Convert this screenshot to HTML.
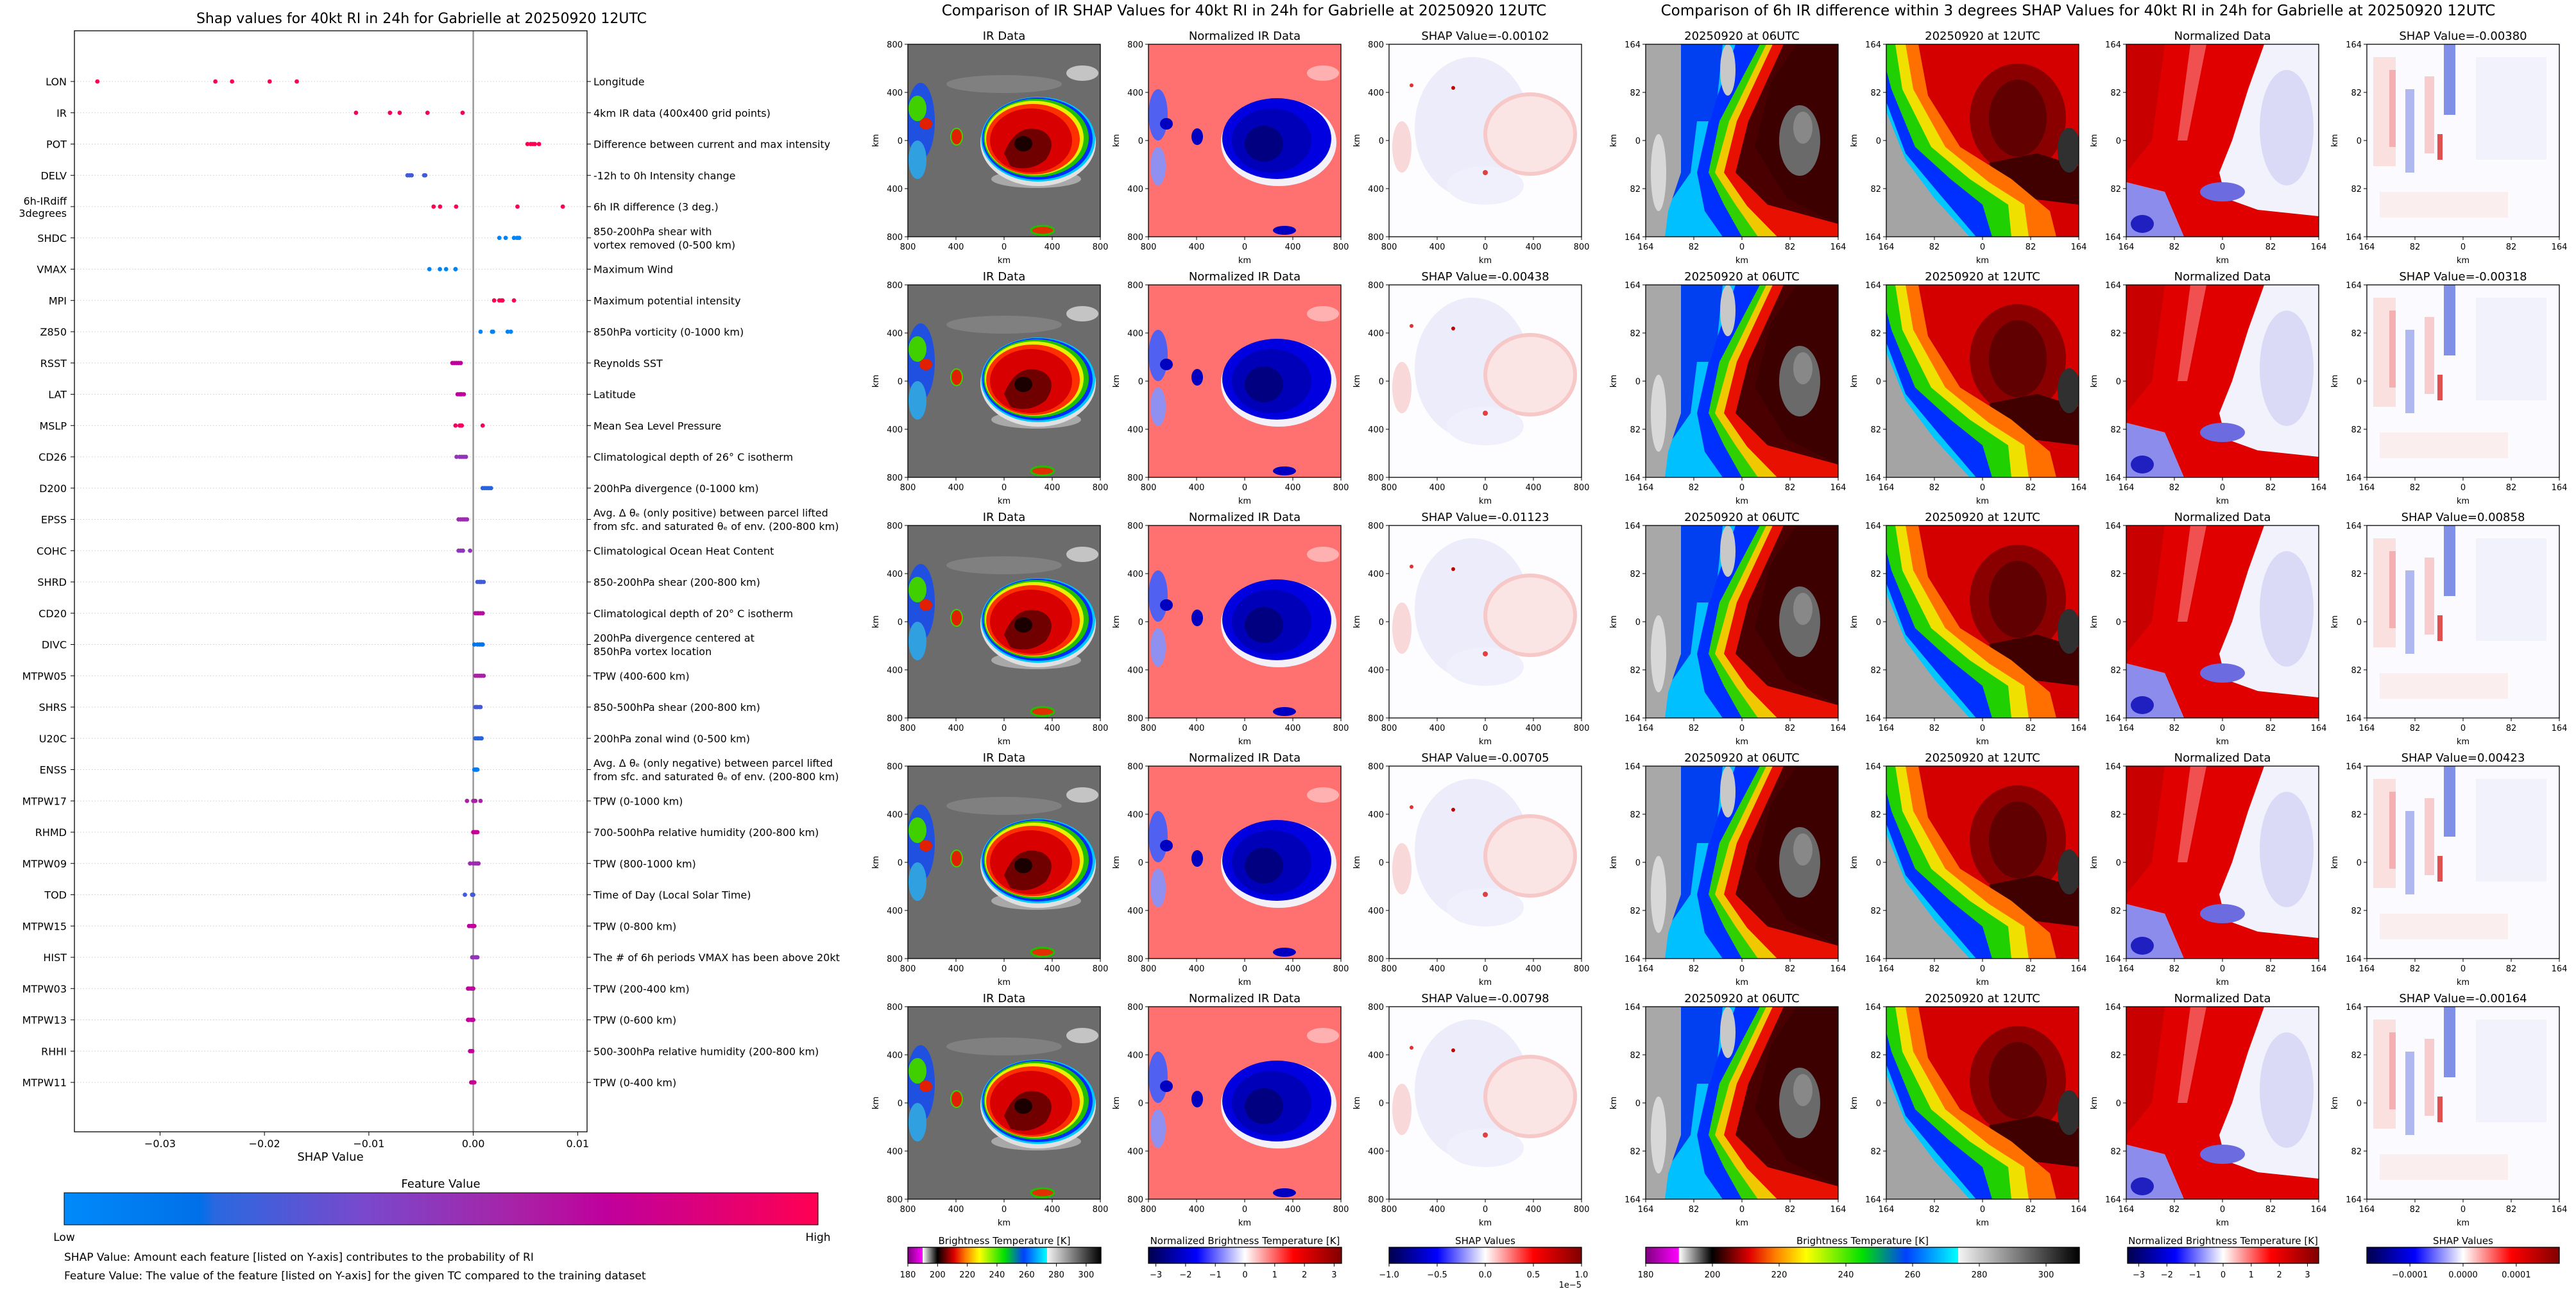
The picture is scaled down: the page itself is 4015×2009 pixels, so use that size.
<!DOCTYPE html>
<html><head><meta charset="utf-8"><title>Gabrielle SHAP</title>
<style>
html,body{margin:0;padding:0;background:#fff;}
svg{display:block;font-family:"DejaVu Sans","Liberation Sans",sans-serif;}
</style></head>
<body>
<svg id="fig" width="4015" height="2009" viewBox="0 0 4015 2009" xmlns="http://www.w3.org/2000/svg">
<defs>
  <linearGradient id="g-feature" x1="0" x2="1" y1="0" y2="0">
    <stop offset="0" stop-color="#008afa"/><stop offset="0.18" stop-color="#0070e8"/>
    <stop offset="0.2" stop-color="#2a68e0"/><stop offset="0.4" stop-color="#7a48cc"/>
    <stop offset="0.6" stop-color="#a822a6"/><stop offset="0.72" stop-color="#c0009c"/>
    <stop offset="1" stop-color="#ff0052"/>
  </linearGradient>
  <linearGradient id="g-bt" x1="0" x2="1">
    <stop offset="0" stop-color="#800080"/><stop offset="0.076" stop-color="#ff00ff"/>
    <stop offset="0.077" stop-color="#ffffff"/><stop offset="0.153" stop-color="#000000"/>
    <stop offset="0.24" stop-color="#e00000"/><stop offset="0.3" stop-color="#ff8000"/>
    <stop offset="0.37" stop-color="#ffff00"/><stop offset="0.5" stop-color="#00e000"/>
    <stop offset="0.6" stop-color="#0040ff"/><stop offset="0.72" stop-color="#00ffff"/>
    <stop offset="0.721" stop-color="#f4f4f4"/><stop offset="1" stop-color="#000000"/>
  </linearGradient>
  <linearGradient id="g-seis" x1="0" x2="1">
    <stop offset="0" stop-color="#00004c"/><stop offset="0.25" stop-color="#0000ff"/>
    <stop offset="0.5" stop-color="#ffffff"/><stop offset="0.75" stop-color="#ff0000"/>
    <stop offset="1" stop-color="#800000"/>
  </linearGradient>

  <symbol id="sym-ir" viewBox="0 0 300 300" preserveAspectRatio="none">
    <rect width="300" height="300" fill="#6c6c6c"/>
    <ellipse cx="150" cy="62" rx="90" ry="14" fill="#808080"/>
    <ellipse cx="272" cy="45" rx="25" ry="12" fill="#c4c4c4"/>
    <ellipse cx="200" cy="210" rx="70" ry="14" fill="#a8a8a8"/>
    <ellipse cx="20" cy="120" rx="22" ry="60" fill="#2050e0"/>
    <ellipse cx="15" cy="100" rx="14" ry="20" fill="#40d000"/>
    <ellipse cx="28" cy="124" rx="10" ry="9" fill="#e02000"/>
    <ellipse cx="15" cy="180" rx="14" ry="30" fill="#30a0e0"/>
    <ellipse cx="76" cy="144" rx="9" ry="13" fill="#e02000" stroke="#40d000" stroke-width="2"/>
    <ellipse cx="210" cy="290" rx="18" ry="7" fill="#e03000" stroke="#20c000" stroke-width="3"/>
    <ellipse cx="203" cy="153" rx="90" ry="68" fill="#e0e0e0"/>
    <ellipse cx="203" cy="148" rx="89" ry="66" fill="#00c8ff"/>
    <ellipse cx="202" cy="147" rx="86" ry="64" fill="#0030ff"/>
    <ellipse cx="200" cy="146" rx="82" ry="61" fill="#20c000"/>
    <ellipse cx="197" cy="146" rx="77" ry="58" fill="#e8f000"/>
    <ellipse cx="195" cy="148" rx="73" ry="55" fill="#ff3000"/>
    <ellipse cx="192" cy="150" rx="64" ry="50" fill="#d80000"/>
    <path d="M150,170 Q170,120 210,135 Q235,150 215,180 Q190,200 160,190 Z" fill="#700000"/>
    <ellipse cx="180" cy="155" rx="14" ry="12" fill="#1a0000"/>
  </symbol>

  <symbol id="sym-irnorm" viewBox="0 0 300 300" preserveAspectRatio="none">
    <rect width="300" height="300" fill="#ff7070"/>
    <ellipse cx="272" cy="45" rx="25" ry="12" fill="#ffb0b0"/>
    <ellipse cx="15" cy="110" rx="15" ry="40" fill="#5060f0"/>
    <ellipse cx="28" cy="124" rx="10" ry="9" fill="#0000c0"/>
    <ellipse cx="15" cy="190" rx="12" ry="30" fill="#9090f0"/>
    <ellipse cx="76" cy="144" rx="9" ry="13" fill="#0000c0"/>
    <ellipse cx="212" cy="290" rx="18" ry="7" fill="#0000c0"/>
    <ellipse cx="203" cy="153" rx="90" ry="68" fill="#f4f0f8"/>
    <ellipse cx="200" cy="147" rx="85" ry="63" fill="#0000e0"/>
    <ellipse cx="192" cy="150" rx="62" ry="50" fill="#0000b8"/>
    <ellipse cx="180" cy="155" rx="30" ry="28" fill="#000080"/>
  </symbol>

  <symbol id="sym-irshap" viewBox="0 0 300 300" preserveAspectRatio="none">
    <rect width="300" height="300" fill="#fdfdff"/>
    <ellipse cx="130" cy="130" rx="90" ry="110" fill="#ececfb"/>
    <ellipse cx="220" cy="140" rx="70" ry="62" fill="#fbe4e4" stroke="#f6c8c8" stroke-width="6"/>
    <ellipse cx="20" cy="160" rx="15" ry="40" fill="#f8d8d8"/>
    <ellipse cx="150" cy="220" rx="60" ry="30" fill="#f0f0fc"/>
    <circle cx="35" cy="64" r="3" fill="#e03030"/>
    <circle cx="100" cy="68" r="3" fill="#c00000"/>
    <circle cx="150" cy="200" r="4" fill="#e04040"/>
  </symbol>

  <symbol id="sym-06" viewBox="0 0 300 300" preserveAspectRatio="none">
    <rect width="300" height="300" fill="#4a0000"/>
    <polygon points="0,0 215,0 160,120 140,200 190,250 300,280 300,300 0,300" fill="#e81000"/>
    <polygon points="0,0 198,0 142,120 122,200 158,252 205,300 0,300" fill="#f0c800"/>
    <polygon points="0,0 188,0 130,120 108,200 140,250 175,300 0,300" fill="#30d000"/>
    <polygon points="0,0 178,0 115,120 98,200 122,250 150,300 0,300" fill="#0030ff"/>
    <polygon points="0,0 140,0 98,120 80,200 92,260 120,300 0,300" fill="#00c0ff"/>
    <polygon points="0,0 120,0 112,80 100,120 80,120 70,200 0,300" fill="#0040f0"/>
    <ellipse cx="128" cy="40" rx="12" ry="40" fill="#c8c8c8"/>
    <polygon points="0,0 55,0 55,200 35,260 30,300 0,300" fill="#a8a8a8"/>
    <ellipse cx="20" cy="200" rx="12" ry="60" fill="#d8d8d8"/>
    <polygon points="235,0 300,0 300,280 220,240 170,160 195,60" fill="#3c0000"/>
    <ellipse cx="240" cy="150" rx="32" ry="55" fill="#6a6a6a"/>
    <ellipse cx="245" cy="130" rx="15" ry="25" fill="#888888"/>
  </symbol>

  <symbol id="sym-12" viewBox="0 0 300 300" preserveAspectRatio="none">
    <rect width="300" height="300" fill="#d40000"/>
    <ellipse cx="205" cy="115" rx="75" ry="85" fill="#8a0000"/>
    <ellipse cx="205" cy="115" rx="45" ry="60" fill="#600000"/>
    <polygon points="160,185 235,170 300,190 300,250 220,240 180,225" fill="#400000"/>
    <ellipse cx="285" cy="165" rx="18" ry="35" fill="#303030"/>
    <polygon points="0,0 50,0 65,80 115,160 195,210 255,260 265,300 0,300" fill="#ff7000"/>
    <polygon points="0,0 30,0 42,70 92,160 160,215 215,250 222,300 0,300" fill="#f0e000"/>
    <polygon points="0,0 14,0 25,70 70,160 130,210 190,250 195,300 0,300" fill="#20d000"/>
    <polygon points="0,40 8,70 45,160 100,210 150,250 165,300 0,300" fill="#0030ff"/>
    <polygon points="0,90 30,170 80,230 140,300 0,300" fill="#00c8ff"/>
    <polygon points="0,105 30,180 75,240 130,300 0,300" fill="#a4a4a4"/>
  </symbol>

  <symbol id="sym-6norm" viewBox="0 0 300 300" preserveAspectRatio="none">
    <rect width="300" height="300" fill="#f2f2fd"/>
    <ellipse cx="250" cy="130" rx="42" ry="90" fill="#dadaf6"/>
    <polygon points="0,0 215,0 190,70 165,150 145,200 155,240 205,258 300,268 300,300 90,300 60,230 0,215" fill="#e00000"/>
    <polygon points="100,0 125,0 95,150 80,150" fill="#f05050"/>
    <polygon points="0,0 60,0 40,150 0,200" fill="#c80000"/>
    <polygon points="0,215 60,230 90,300 0,300" fill="#8c8cec"/>
    <ellipse cx="25" cy="280" rx="18" ry="14" fill="#2020c0"/>
    <ellipse cx="150" cy="230" rx="35" ry="15" fill="#6c6ce0"/>
  </symbol>

  <symbol id="sym-6shap" viewBox="0 0 300 300" preserveAspectRatio="none">
    <rect width="300" height="300" fill="#fbfbff"/>
    <rect x="10" y="20" width="35" height="170" fill="#fbe0e0"/>
    <rect x="35" y="40" width="10" height="120" fill="#f4b0b0"/>
    <rect x="60" y="70" width="14" height="130" fill="#b0b8f0"/>
    <rect x="90" y="50" width="15" height="120" fill="#f8cccc"/>
    <rect x="120" y="0" width="18" height="110" fill="#8090e8"/>
    <rect x="110" y="140" width="8" height="40" fill="#e05050"/>
    <rect x="170" y="20" width="110" height="160" fill="#f2f2fc"/>
    <rect x="20" y="230" width="200" height="40" fill="#faeeee"/>
  </symbol>
</defs>
<g id="root"></g>
</svg>

<script>
// ---------- data: left SHAP summary ----------
const features = ["LON","IR","POT","DELV","6h-IRdiff\n3degrees","SHDC","VMAX","MPI","Z850","RSST","LAT","MSLP","CD26","D200","EPSS","COHC","SHRD","CD20","DIVC","MTPW05","SHRS","U20C","ENSS","MTPW17","RHMD","MTPW09","TOD","MTPW15","HIST","MTPW03","MTPW13","RHHI","MTPW11"];
const descriptions = ["Longitude","4km IR data (400x400 grid points)","Difference between current and max intensity","-12h to 0h Intensity change","6h IR difference (3 deg.)","850-200hPa shear with\nvortex removed (0-500 km)","Maximum Wind","Maximum potential intensity","850hPa vorticity (0-1000 km)","Reynolds SST","Latitude","Mean Sea Level Pressure","Climatological depth of 26° C isotherm","200hPa divergence (0-1000 km)","Avg. Δ θₑ (only positive) between parcel lifted\nfrom sfc. and saturated θₑ of env. (200-800 km)","Climatological Ocean Heat Content","850-200hPa shear (200-800 km)","Climatological depth of 20° C isotherm","200hPa divergence centered at\n850hPa vortex location","TPW (400-600 km)","850-500hPa shear (200-800 km)","200hPa zonal wind (0-500 km)","Avg. Δ θₑ (only negative) between parcel lifted\nfrom sfc. and saturated θₑ of env. (200-800 km)","TPW (0-1000 km)","700-500hPa relative humidity (200-800 km)","TPW (800-1000 km)","Time of Day (Local Solar Time)","TPW (0-800 km)","The # of 6h periods VMAX has been above 20kt","TPW (200-400 km)","TPW (0-600 km)","500-300hPa relative humidity (200-800 km)","TPW (0-400 km)"];
const shapValues = [
 [-0.0360,-0.0247,-0.0231,-0.0195,-0.0169],
 [-0.01123,-0.00798,-0.00705,-0.00438,-0.00102],
 [0.0052,0.0055,0.0057,0.0059,0.0063],
 [-0.0063,-0.0061,-0.0059,-0.0047,-0.0046],
 [-0.00380,-0.00318,-0.00164,0.00423,0.00858],
 [0.0025,0.0031,0.0039,0.0042,0.0044],
 [-0.0042,-0.0032,-0.0026,-0.0017,-0.0017],
 [0.0020,0.0025,0.0027,0.0028,0.0039],
 [0.0007,0.0018,0.0019,0.0033,0.0036],
 [-0.0020,-0.0018,-0.0016,-0.0014,-0.0012],
 [-0.0015,-0.0013,-0.0012,-0.0011,-0.0009],
 [-0.0017,-0.0013,-0.0012,-0.0011,0.0009],
 [-0.0016,-0.0013,-0.0011,-0.0009,-0.0007],
 [0.0009,0.0011,0.0013,0.0015,0.0017],
 [-0.0014,-0.0012,-0.0010,-0.0008,-0.0006],
 [-0.0014,-0.0012,-0.0010,-0.0010,-0.0003],
 [0.0004,0.0006,0.0007,0.0008,0.0010],
 [0.0002,0.0004,0.0005,0.0007,0.0009],
 [0.0001,0.0004,0.0006,0.0008,0.0009],
 [0.0002,0.0004,0.0006,0.0008,0.0010],
 [0.0002,0.0003,0.0004,0.0006,0.0007],
 [0.0002,0.0004,0.0005,0.0007,0.0008],
 [0.0001,0.0002,0.0003,0.0003,0.0004],
 [-0.0006,0.0000,0.0001,0.0002,0.0007],
 [0.0000,0.0001,0.0002,0.0003,0.0004],
 [-0.0003,0.0000,0.0002,0.0004,0.0005],
 [-0.0008,-0.0001,-0.0001,0.0000,-0.0001],
 [-0.0004,-0.0002,-0.0001,0.0000,0.0001],
 [-0.0001,0.0000,0.0002,0.0003,0.0004],
 [-0.0005,-0.0004,-0.0002,-0.0001,0.0000],
 [-0.0005,-0.0004,-0.0002,-0.0001,0.0000],
 [-0.0003,-0.0002,-0.0002,-0.0001,-0.0001],
 [-0.0002,-0.0001,0.0000,0.0000,0.0001]
];
const featureLevels = [1,0.95,1,0.3,1,0.05,0.05,1,0.05,0.72,0.72,0.95,0.5,0.25,0.55,0.5,0.3,0.68,0.15,0.6,0.3,0.25,0.1,0.6,0.75,0.55,0.3,0.72,0.5,0.72,0.72,0.72,0.75];
const xTicks = [-0.03,-0.02,-0.01,0.0,0.01];
const xTickLabels = ["\u22120.03","\u22120.02","\u22120.01","0.00","0.01"];

// ---------- data: image panels ----------
const irShapTitles = ["-0.00102","-0.00438","-0.01123","-0.00705","-0.00798"];
const diffShapTitles = ["-0.00380","-0.00318","0.00858","0.00423","-0.00164"];
const irAxisLabels = ["800","400","0","400","800"];
const diffAxisLabels = ["164","82","0","82","164"];
const btTicks = [180,200,220,240,260,280,300];
const normTicks = [-3,-2,-1,0,1,2,3];
const shapCbTicks = [-1.0,-0.5,0.0,0.5,1.0];
const diffShapCbTicks = [-0.0001,0,0.0001];

const NS = "http://www.w3.org/2000/svg";
const root = document.getElementById("root");
function mk(tag, attrs, parent, txt){
  const e = document.createElementNS(NS, tag);
  for (const k in attrs) e.setAttribute(k, attrs[k]);
  if (txt !== undefined) e.textContent = txt;
  (parent || root).appendChild(e);
  return e;
}

// ---------- left chart ----------
const AX = {L:116, R:915, T:48, B:1764};
const xMin = -0.0382, xMax = 0.0109;
function xScale(v){ return AX.L + (v - xMin) / (xMax - xMin) * (AX.R - AX.L); }
function yRow(i){ return 127 + i * (1687 - 127) / (features.length - 1); }
const cmapStops = [[0,[0,138,250]],[0.18,[0,112,232]],[0.4,[122,72,204]],[0.6,[168,34,166]],[0.72,[192,0,156]],[1,[255,0,82]]];
function cmap(t){
  for (let k=1;k<cmapStops.length;k++){
    if (t <= cmapStops[k][0]){
      const a=cmapStops[k-1], b=cmapStops[k], f=(t-a[0])/(b[0]-a[0]);
      const c=a[1].map((v,j)=>Math.round(v+(b[1][j]-v)*f));
      return "rgb("+c.join(",")+")";
    }
  }
  return "rgb(255,0,82)";
}

const title = mk("text",{x:657,y:36,"text-anchor":"middle","font-size":"22"},null,"Shap values for 40kt RI in 24h for Gabrielle at 20250920 12UTC");



const plot = mk("g",{});



features.forEach((f,i)=>{
  const y = yRow(i);
  const grid = mk("line",{x1:AX.L,x2:AX.R,y1:y,y2:y,stroke:"#cccccc","stroke-width":1,"stroke-dasharray":"1.5,3"},plot);
  
  
  const lt = mk("line",{x1:AX.L-6,x2:AX.L,y1:y,y2:y,stroke:"#000","stroke-width":1},plot);
  
  
  const rt = mk("line",{x1:AX.R,x2:AX.R+6,y1:y,y2:y,stroke:"#000","stroke-width":1},plot);
  
  
  const lines = f.split("\n");
  const lab = mk("text",{x:AX.L-12,y:y+6-(lines.length-1)*9,"text-anchor":"end","font-size":"16"},plot);
  
  
  lines.forEach((s,k)=>{ mk("tspan",{x:AX.L-12,dy:k?19:0},lab,s); });
  const dl = descriptions[i].split("\n");
  const desc = mk("text",{x:AX.R+10,y:y+6-(dl.length-1)*10.5,"font-size":"16"},plot);
  
  
  dl.forEach((s,k)=>{ mk("tspan",{x:AX.R+10,dy:k?21:0},desc,s); });
});

const zl = mk("line",{x1:xScale(0),x2:xScale(0),y1:AX.T,y2:AX.B,stroke:"#999999","stroke-width":2.5},plot);



shapValues.forEach((vals,i)=>{
  vals.forEach(v=>{
    const d = mk("circle",{cx:xScale(v).toFixed(1),cy:yRow(i),r:3.4,fill:cmap(featureLevels[i])},plot);
    
    
  });
});

const frame = mk("rect",{x:AX.L,y:AX.T,width:AX.R-AX.L,height:AX.B-AX.T,fill:"none",stroke:"#000","stroke-width":1.3},plot);



xTicks.forEach((v,k)=>{
  const x = xScale(v);
  const t = mk("line",{x1:x,x2:x,y1:AX.B,y2:AX.B+6,stroke:"#000","stroke-width":1},plot);
  
  
  const tl = mk("text",{x:x,y:AX.B+24,"text-anchor":"middle","font-size":"16"},plot,xTickLabels[k]);
  
  
});
const xt = mk("text",{x:515,y:1809,"text-anchor":"middle","font-size":"18"},plot,"SHAP Value");



const fvt = mk("text",{x:687,y:1851,"text-anchor":"middle","font-size":"18"},null,"Feature Value");


const fcb = mk("rect",{x:100,y:1859,width:1175,height:50,fill:"url(#g-feature)",stroke:"#000","stroke-width":1});


const low = mk("text",{x:100,y:1934,"text-anchor":"middle","font-size":"17"},null,"Low");


const high = mk("text",{x:1275,y:1934,"text-anchor":"middle","font-size":"17"},null,"High");


const n1 = mk("text",{x:100,y:1965,"font-size":"17"},null,"SHAP Value: Amount each feature [listed on Y-axis] contributes to the probability of RI");


const n2 = mk("text",{x:100,y:1994,"font-size":"17"},null,"Feature Value: The value of the feature [listed on Y-axis] for the given TC compared to the training dataset");



// ---------- image panels ----------
const t2 = mk("text",{x:1939,y:24,"text-anchor":"middle","font-size":"23"},null,"Comparison of IR SHAP Values for 40kt RI in 24h for Gabrielle at 20250920 12UTC");


const t3 = mk("text",{x:3239,y:24,"text-anchor":"middle","font-size":"23"},null,"Comparison of 6h IR difference within 3 degrees SHAP Values for 40kt RI in 24h for Gabrielle at 20250920 12UTC");



const PW = 300;
function panel(x, top, sym, ttl, labels, name){
  const g = mk("g",{});
  
  
  mk("use",{href:"#"+sym,x:x,y:top,width:PW,height:PW},g);
  mk("rect",{x:x,y:top,width:PW,height:PW,fill:"none",stroke:"#000","stroke-width":1.3},g);
  const tt = mk("text",{x:x+PW/2,y:top-7,"text-anchor":"middle","font-size":"18"},g,ttl);
  
  
  labels.forEach((s,k)=>{
    const p = k*PW/4;
    mk("line",{x1:x+p,x2:x+p,y1:top+PW,y2:top+PW+5,stroke:"#000"},g);
    mk("line",{x1:x-5,x2:x,y1:top+p,y2:top+p,stroke:"#000"},g);
    const xl = mk("text",{x:x+p,y:top+PW+20,"text-anchor":"middle","font-size":"13"},g,s);
    
    
    const yl = mk("text",{x:x-8,y:top+p+5,"text-anchor":"end","font-size":"13"},g,s);
    
    
  });
  const xk = mk("text",{x:x+PW/2,y:top+PW+41,"text-anchor":"middle","font-size":"13"},g,"km");
  
  
  const yk = mk("text",{x:x-46,y:top+PW/2,"text-anchor":"middle","font-size":"13",transform:"rotate(-90 "+(x-46)+" "+(top+PW/2)+")"},g,"km");
  
  
}
const irCols = [1415,1790,2165];
const dCols = [2565,2940,3314,3689];
for (let r=0;r<5;r++){
  const top = 69 + r*375;
  panel(irCols[0],top,"sym-ir","IR Data",irAxisLabels,"ir-data-panel");
  panel(irCols[1],top,"sym-irnorm","Normalized IR Data",irAxisLabels,"normalized-ir-panel");
  panel(irCols[2],top,"sym-irshap","SHAP Value="+irShapTitles[r],irAxisLabels,"ir-shap-panel");
  panel(dCols[0],top,"sym-06","20250920 at 06UTC",diffAxisLabels,"ir-06utc-panel");
  panel(dCols[1],top,"sym-12","20250920 at 12UTC",diffAxisLabels,"ir-12utc-panel");
  panel(dCols[2],top,"sym-6norm","Normalized Data",diffAxisLabels,"normalized-diff-panel");
  panel(dCols[3],top,"sym-6shap","SHAP Value="+diffShapTitles[r],diffAxisLabels,"diff-shap-panel");
}

// ---------- colorbars ----------
function colorbar(x, w, grad, ttl, ticks, vmin, vmax, fmt, name){
  const g = mk("g",{});
  
  
  const ct = mk("text",{x:x+w/2,y:1939,"text-anchor":"middle","font-size":"15"},g,ttl);
  
  
  mk("rect",{x:x,y:1944,width:w,height:25,fill:"url(#"+grad+")",stroke:"#000","stroke-width":1.3},g);
  ticks.forEach(v=>{
    const px = x + (v - vmin)/(vmax - vmin)*w;
    mk("line",{x1:px,x2:px,y1:1969,y2:1974,stroke:"#000"},g);
    const tl = mk("text",{x:px,y:1991,"text-anchor":"middle","font-size":"13"},g,fmt(v));
    
    
  });
}
const mfmt = s => s.replace("-","\u2212");
colorbar(1415,301,"g-bt","Brightness Temperature [K]",btTicks,180,310,v=>String(v),"ir-brightness-colorbar");
colorbar(1790,301,"g-seis","Normalized Brightness Temperature [K]",normTicks,-3.25,3.25,v=>mfmt(String(v)),"ir-normalized-colorbar");
colorbar(2165,300,"g-seis","SHAP Values",shapCbTicks,-1,1,v=>mfmt(v.toFixed(1)),"ir-shap-colorbar");
colorbar(2565,676,"g-bt","Brightness Temperature [K]",btTicks,180,310,v=>String(v),"diff-brightness-colorbar");
colorbar(3316,298,"g-seis","Normalized Brightness Temperature [K]",normTicks,-3.4,3.4,v=>mfmt(String(v)),"diff-normalized-colorbar");
colorbar(3689,300,"g-seis","SHAP Values",diffShapCbTicks,-0.000181,0.000181,v=>mfmt(v.toFixed(4)),"diff-shap-colorbar");
const ex = mk("text",{x:2465,y:2007,"text-anchor":"end","font-size":"13"},null,"1e\u22125");


</script>
</body></html>
